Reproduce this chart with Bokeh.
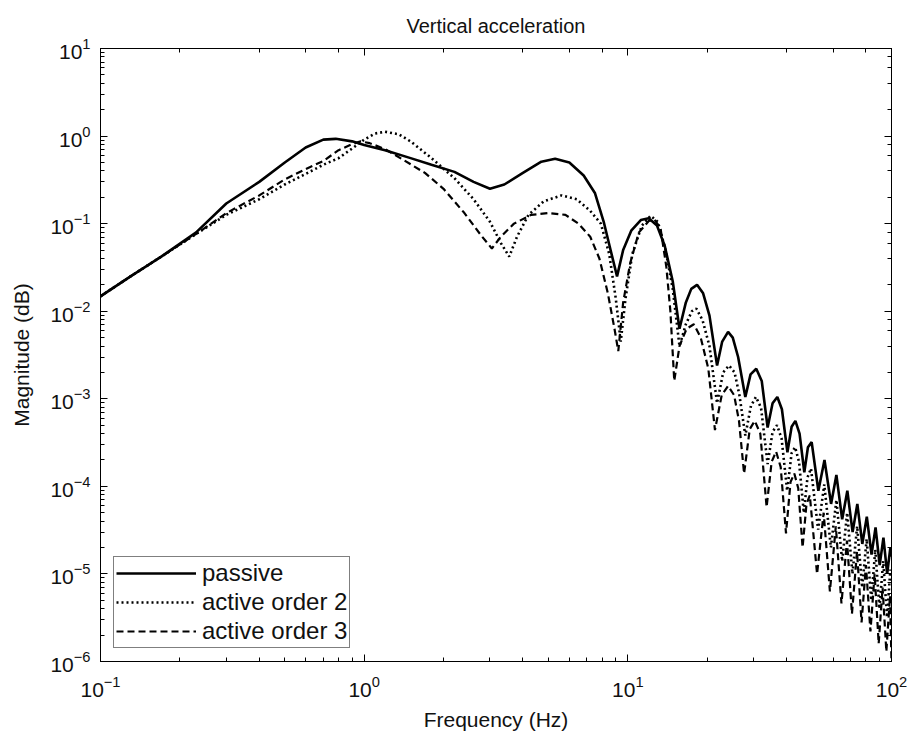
from bokeh.plotting import figure
from bokeh.models import LogAxis, Range1d, Legend, LegendItem, CustomJSTickFormatter
from bokeh.embed import file_html
from bokeh.resources import INLINE

# ---- data ----
passive_f = [0.1, 0.13, 0.17, 0.23, 0.3, 0.4, 0.5, 0.6, 0.7, 0.78, 0.9, 1.0, 1.2, 1.5, 1.8, 2.2, 2.6, 3.0, 3.4, 4.0,
             4.7, 5.3, 6.0, 6.8, 7.5, 8.1, 8.6, 9.1, 9.6, 10.3, 11.2, 12.0, 12.9, 13.8, 14.8, 15.7, 16.6, 17.4, 18.3, 19.3,
             20.4, 21.8, 22.8, 24.0, 25.0, 26.2, 27.9, 29.2, 30.7, 32.2, 33.9, 35.4, 36.9, 38.4, 40.3, 41.8, 43.2, 44.8,
             46.7, 48.2, 49.8, 52.8, 55.7, 59.0, 61.8, 65.0, 68.0, 71.2, 74.2, 77.5, 80.6, 84.0, 87.0, 90.2, 93.2, 96.3,
             99.0, 100]
passive_v = [0.0148, 0.025, 0.042, 0.079, 0.17, 0.30, 0.50, 0.74, 0.91, 0.93, 0.87, 0.79, 0.69, 0.56, 0.47, 0.39, 0.30,
             0.25, 0.28, 0.38, 0.51, 0.55, 0.50, 0.355, 0.224, 0.105, 0.05, 0.025, 0.05, 0.083, 0.11, 0.115, 0.095, 0.056,
             0.022, 0.0063, 0.0126, 0.018, 0.02, 0.016, 0.0089, 0.0024, 0.0045, 0.0058, 0.005, 0.003, 0.00105, 0.0019,
             0.0022, 0.0016, 0.00047, 0.00089, 0.00105, 0.00076, 0.000245, 0.00048, 0.00056, 0.0004, 0.000145, 0.00028,
             0.00032, 0.000089, 0.0002, 0.000063, 0.000135, 0.000042, 0.000089, 0.00003, 0.000063, 0.000022, 0.000045,
             0.0000166, 0.000034, 0.0000126, 0.000026, 0.00001, 0.00002, 0.0000158]

order2_f = [0.1, 0.13, 0.17, 0.23, 0.3, 0.4, 0.5, 0.6, 0.7, 0.8, 0.9, 1.0, 1.1, 1.2, 1.35, 1.5, 1.8, 2.2, 2.6, 3.0, 3.3,
            3.55, 3.8, 4.2, 4.8, 5.6, 6.4, 7.2, 7.9, 8.5, 9.0, 9.4, 9.8, 10.4, 11.3, 12.2, 13.0, 13.9, 14.8, 15.7, 16.6,
            17.5, 18.2, 19.2, 20.4, 21.8, 23.0, 24.2, 25.4, 26.5, 27.9, 29.3, 30.6, 32.0, 33.9, 35.4, 36.8, 38.3, 40.2,
            41.8, 43.1, 44.6, 46.5, 48.0, 49.5, 52.7, 55.6, 58.9, 61.8, 65.0, 67.9, 71.1, 74.1, 77.4, 80.5, 83.8, 86.8,
            90.0, 93.0, 96.2, 99.0, 100]
order2_v = [0.0148, 0.025, 0.042, 0.076, 0.126, 0.19, 0.28, 0.37, 0.47, 0.56, 0.72, 0.91, 1.07, 1.12, 1.05, 0.87, 0.56,
            0.33, 0.19, 0.105, 0.06, 0.042, 0.071, 0.126, 0.18, 0.21, 0.19, 0.14, 0.1, 0.045, 0.014, 0.0045, 0.014,
            0.045, 0.095, 0.123, 0.105, 0.05, 0.018, 0.004, 0.0071, 0.01, 0.0107, 0.0079, 0.004, 0.00089, 0.002, 0.0024,
            0.002, 0.0011, 0.00038, 0.00083, 0.00105, 0.00079, 0.00018, 0.00042, 0.0005, 0.00035, 0.000089, 0.00024,
            0.00028, 0.00019, 0.00005, 0.000126, 0.00016, 0.000032, 0.000105, 0.00002, 0.00007, 0.000014, 0.00005,
            0.00001, 0.000035, 0.000007, 0.000025, 0.000005, 0.000019, 0.000004, 0.000014, 0.0000032, 0.0000112,
            0.0000079]

order3_f = [0.1, 0.13, 0.17, 0.23, 0.3, 0.4, 0.5, 0.6, 0.7, 0.8, 0.9, 0.97, 1.05, 1.2, 1.4, 1.7, 2.0, 2.4, 2.8, 3.05,
            3.3, 3.7, 4.3, 5.0, 5.8, 6.5, 7.2, 7.8, 8.4, 8.9, 9.2, 9.6, 10.2, 11.0, 12.0, 12.6, 13.3, 14.0, 14.5, 15.0,
            15.7, 16.7, 17.8, 18.9, 20.2, 21.4, 22.7, 24.0, 25.3, 26.4, 27.6, 29.0, 30.3, 31.8, 33.6, 35.1, 36.5, 38.0,
            39.8, 41.4, 42.8, 44.3, 46.0, 47.6, 49.0, 52.2, 55.3, 58.4, 61.5, 64.6, 67.8, 70.8, 74.0, 77.0, 80.0, 83.2,
            86.3, 89.4, 92.5, 95.6, 98.7, 100]
order3_v = [0.0148, 0.025, 0.042, 0.076, 0.132, 0.21, 0.32, 0.42, 0.52, 0.69, 0.81, 0.87, 0.83, 0.71, 0.54, 0.38, 0.25,
            0.132, 0.071, 0.052, 0.071, 0.1, 0.126, 0.132, 0.126, 0.1, 0.071, 0.04, 0.016, 0.0063, 0.0035, 0.0126,
            0.035, 0.079, 0.107, 0.112, 0.089, 0.032, 0.01, 0.0016, 0.004, 0.0063, 0.0071, 0.005, 0.0022, 0.00044,
            0.0011, 0.0014, 0.0011, 0.00056, 0.00014, 0.00045, 0.00056, 0.0004, 0.000058, 0.00019, 0.00025, 0.000166,
            0.000029, 0.000112, 0.00014, 0.000095, 0.00002, 0.000063, 0.000079, 0.00001, 0.00005, 0.0000063, 0.000035,
            0.0000046, 0.000024, 0.0000035, 0.000018, 0.0000028, 0.0000126, 0.0000022, 0.00001, 0.0000016, 0.000007,
            0.0000013, 0.0000056, 0.000001]

series_labels = ["passive", "active order 2", "active order 3"]

FONT = "Liberation Sans"

p = figure(width=907, height=740, x_axis_type="log", y_axis_type="log",
           x_range=Range1d(0.1, 100), y_range=Range1d(1e-6, 10),
           output_backend="svg", toolbar_location=None,
           min_border_left=100, min_border_right=16, min_border_top=48, min_border_bottom=79)

p.title.text = "Vertical acceleration"
p.title.align = "center"
p.title.text_font = FONT
p.title.text_font_size = "20px"
p.title.text_font_style = "normal"
p.title.text_color = "#111111"
p.title.standoff = 24

p.xgrid.visible = False
p.ygrid.visible = False
p.outline_line_color = "black"
p.outline_line_width = 1

for ax in (p.xaxis[0], p.yaxis[0]):
    ax.major_label_text_font = FONT
    ax.major_label_text_font_size = "21px"
    ax.major_label_text_color = "#111111"
    ax.axis_label_text_font = FONT
    ax.axis_label_text_font_size = "21px"
    ax.axis_label_text_font_style = "normal"
    ax.axis_label_text_color = "#111111"
    ax.major_tick_in = 7
    ax.major_tick_out = 0
    ax.minor_tick_in = 4
    ax.minor_tick_out = 0
    ax.axis_line_color = "black"

p.xaxis.major_label_standoff = 14
p.yaxis.major_label_standoff = 10
p.xaxis.axis_label_standoff = 8
p.yaxis.axis_label_standoff = 14

p.xaxis.axis_label = "Frequency (Hz)"
p.yaxis.axis_label = "Magnitude (dB)"

blank = CustomJSTickFormatter(code="return '';")
top_ax = LogAxis(formatter=blank, major_tick_in=7, major_tick_out=0,
                 minor_tick_in=4, minor_tick_out=0, major_label_standoff=0)
right_ax = LogAxis(formatter=blank, major_tick_in=7, major_tick_out=0,
                   minor_tick_in=4, minor_tick_out=0, major_label_standoff=0)
p.add_layout(top_ax, "above")
p.add_layout(right_ax, "right")

r1 = p.line(passive_f, passive_v, line_color="black", line_width=2.6)
r2 = p.line(order2_f, order2_v, line_color="black", line_width=2.6, line_dash="2 3")
r3 = p.line(order3_f, order3_v, line_color="black", line_width=2.2, line_dash="7 4")

legend = Legend(items=[LegendItem(label=series_labels[0], renderers=[r1]),
                       LegendItem(label=series_labels[1], renderers=[r2]),
                       LegendItem(label=series_labels[2], renderers=[r3])],
                location=(13, 13), margin=0, padding=2, spacing=1,
                glyph_width=80, glyph_height=20, label_standoff=6,
                label_text_font=FONT, label_text_font_size="24px", label_text_color="#111111",
                label_height=22,
                border_line_color="black", border_line_width=1,
                background_fill_alpha=1.0)
p.add_layout(legend)

open("out.html", "w").write(file_html(p, INLINE))
